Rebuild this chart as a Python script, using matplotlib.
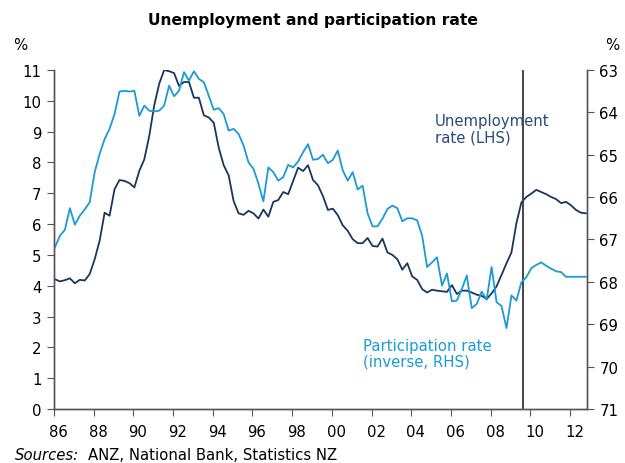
import numpy as np
import matplotlib
matplotlib.use("Agg")
import matplotlib.pyplot as plt

# ----------------------------
# Data (quarterly, 1986Q1 onwards)
# ----------------------------
START_YEAR = 1986
unemployment = [
    4.21, 4.14, 4.18, 4.24, 4.08, 4.19, 4.17, 4.38, 4.86, 5.46,
    6.37, 6.27, 7.13, 7.43, 7.40, 7.33, 7.19, 7.73, 8.10, 8.86,
    9.85, 10.55, 11.0, 10.96, 10.90, 10.48, 10.61, 10.61, 10.10, 10.10,
    9.53, 9.46, 9.29, 8.48, 7.91, 7.58, 6.75, 6.35, 6.30, 6.43,
    6.35, 6.18, 6.47, 6.24, 6.72, 6.78, 7.04, 6.97, 7.40, 7.83,
    7.72, 7.91, 7.43, 7.26, 6.91, 6.46, 6.50, 6.29, 5.96, 5.78,
    5.51, 5.38, 5.38, 5.55, 5.29, 5.27, 5.53, 5.08, 5.00, 4.86,
    4.52, 4.73, 4.30, 4.19, 3.89, 3.78, 3.87, 3.84, 3.82, 3.80,
    4.02, 3.73, 3.84, 3.84, 3.78, 3.71, 3.67, 3.57, 3.75, 3.98,
    4.35, 4.73, 5.08, 6.03, 6.70, 6.88, 6.99, 7.11, 7.04, 6.97,
    6.88, 6.81, 6.68, 6.72, 6.61, 6.46, 6.37, 6.35,
]
participation = [
    67.18, 66.91, 66.77, 66.26, 66.65, 66.44, 66.29, 66.12, 65.41, 64.98,
    64.63, 64.39, 64.04, 63.51, 63.49, 63.51, 63.49, 64.08, 63.84, 63.96,
    63.98, 63.96, 63.84, 63.37, 63.62, 63.49, 63.05, 63.25, 63.03, 63.21,
    63.29, 63.61, 63.94, 63.90, 64.04, 64.43, 64.39, 64.51, 64.78, 65.18,
    65.33, 65.68, 66.10, 65.30, 65.41, 65.61, 65.53, 65.24, 65.30, 65.16,
    64.94, 64.75, 65.12, 65.10, 65.00, 65.20, 65.12, 64.90, 65.37, 65.61,
    65.41, 65.82, 65.73, 66.38, 66.69, 66.69, 66.51, 66.28, 66.20, 66.26,
    66.57, 66.50, 66.50, 66.55, 66.91, 67.65, 67.54, 67.42, 68.09, 67.80,
    68.46, 68.44, 68.17, 67.85, 68.62, 68.52, 68.23, 68.42, 67.65, 68.48,
    68.57, 69.09, 68.32, 68.44, 68.01, 67.89, 67.68, 67.60, 67.54, 67.62,
    67.69, 67.75, 67.77, 67.88, 67.88, 67.88, 67.88, 67.88,
]
year_labels = ["86", "88", "90", "92", "94", "96", "98", "00", "02", "04", "06", "08", "10", "12"]
forecast_start = 2009.6

DARK = "#17375e"
LIGHT = "#1b9ad6"
AXIS = "#555555"
FS = 10.7

# ----------------------------
# Plot
# ----------------------------
t = START_YEAR + np.arange(len(unemployment)) / 4.0

fig = plt.figure(figsize=(6.25, 4.64), dpi=100)
ax = fig.add_axes([0.0864, 0.1164, 0.8526, 0.7306])
ax2 = ax.twinx()

ax.plot(t, unemployment, color=DARK, lw=1.3)
ax2.plot(t, participation, color=LIGHT, lw=1.3)
ax.axvline(forecast_start, color="#444444", lw=1.4)

ax.set_xlim(START_YEAR - 0.05, START_YEAR + 26.8)
ax.set_ylim(0, 11)
ax2.set_ylim(71, 63)

tick_pos = START_YEAR - 0.05 + 2 * np.arange(len(year_labels))
ax.set_xticks(tick_pos)
ax.set_xticklabels([])
ax.set_xticks(tick_pos + 0.23, minor=True)
ax.set_xticklabels(year_labels, minor=True)
ax.tick_params(axis="x", which="major", direction="out", length=5, color=AXIS)
ax.tick_params(axis="x", which="minor", length=0, pad=11, labelsize=FS)

ax.set_yticks(range(0, 12))
ax.tick_params(axis="y", direction="out", length=5, color=AXIS, labelsize=FS, pad=4)
ax2.set_yticks(range(63, 72))
ax2.tick_params(axis="y", direction="out", length=5, color=AXIS, labelsize=FS, pad=4)

for a in (ax, ax2):
    a.spines["top"].set_visible(False)
    for s in ("left", "right", "bottom"):
        a.spines[s].set_color(AXIS)
        a.spines[s].set_linewidth(1.0)

fig.text(0.5, 0.955, "Unemployment and participation rate", ha="center", va="center",
         fontsize=11.2, fontweight="bold")
fig.text(0.033, 0.902, "%", ha="center", va="center", fontsize=FS)
fig.text(0.979, 0.902, "%", ha="center", va="center", fontsize=FS)

fig.text(0.696, 0.754, "Unemployment\nrate (LHS)", ha="left", va="top",
         fontsize=FS, color="#2a4a78", linespacing=1.1)
fig.text(0.581, 0.270, "Participation rate\n(inverse, RHS)", ha="left", va="top",
         fontsize=FS, color=LIGHT, linespacing=1.1)

fig.text(0.024, 0.019, "Sources:", ha="left", va="center", fontsize=FS, style="italic")
fig.text(0.14, 0.019, "ANZ, National Bank, Statistics NZ", ha="left", va="center", fontsize=FS)

fig.savefig("out.png", dpi=100)
